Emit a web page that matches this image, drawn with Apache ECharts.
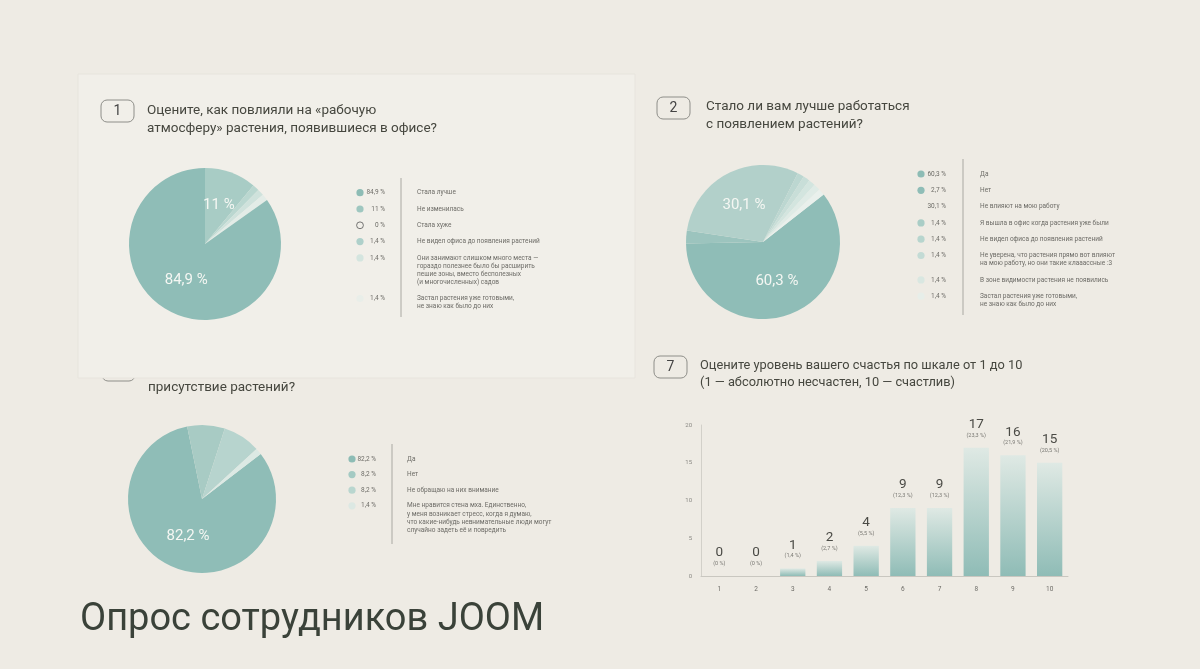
<!DOCTYPE html>
<html><head><meta charset="utf-8">
<script src="https://cdn.jsdelivr.net/npm/echarts@6/dist/echarts.min.js"></script>
<style>html,body{margin:0;padding:0;background:#eeebe4;}#c{width:1200px;height:669px;}</style>
</head><body><div id="c"></div>
<script>
// ---------- DATA ----------
const q1Title = 'Оцените, как повлияли на «рабочую\nатмосферу» растения, появившиеся в офисе?';
const q1Labels = ['Стала лучше','Не изменилась','Стала хуже','Не видел офиса до появления растений',
  'Они занимают слишком много места —\nгораздо полезнее было бы расширить\nпешие зоны, вместо бесполезных\n(и многочисленных) садов',
  'Застал растения уже готовыми,\nне знаю как было до них'];
const q1Values = [84.9, 11, 0, 1.4, 1.4, 1.4];
const q1Pct = ['84,9 %','11 %','0 %','1,4 %','1,4 %','1,4 %'];
const q1PieOrder = [1, 3, 4, 5, 2, 0];

const q2Title = 'Стало ли вам лучше работаться\nс появлением растений?';
const q2Labels = ['Да','Нет','Не влияют на мою работу','Я вышла в офис когда растения уже были',
  'Не видел офиса до появления растений',
  'Не уверена, что растения прямо вот влияют\nна мою работу, но они такие клааассные :3',
  'В зоне видимости растения не появились',
  'Застал растения уже готовыми,\nне знаю как было до них'];
const q2Values = [60.3, 2.7, 30.1, 1.4, 1.4, 1.4, 1.4, 1.4];
const q2Pct = ['60,3 %','2,7 %','30,1 %','1,4 %','1,4 %','1,4 %','1,4 %','1,4 %'];

const q3Title = 'присутствие растений?';
const q3Labels = ['Да','Нет','Не обращаю на них внимание',
  'Мне нравится стена мха. Единственно,\nу меня возникает стресс, когда я думаю,\nчто какие-нибудь невнимательные люди могут\nслучайно задеть её и повредить'];
const q3Values = [82.2, 8.2, 8.2, 1.4];
const q3Pct = ['82,2 %','8,2 %','8,2 %','1,4 %'];

const q7Title = 'Оцените уровень вашего счастья по шкале от 1 до 10\n(1 — абсолютно несчастен, 10 — счастлив)';
const q7Categories = ['1','2','3','4','5','6','7','8','9','10'];
const q7Values = [0, 0, 1, 2, 4, 9, 9, 17, 16, 15];
const q7Pct = ['0 %','0 %','1,4 %','2,7 %','5,5 %','12,3 %','12,3 %','23,3 %','21,9 %','20,5 %'];
const q7YTicks = [0, 5, 10, 15, 20];

const pageTitle = 'Опрос сотрудников JOOM';

// ---------- STYLE ----------
const FONT = 'Roboto, "Noto Sans", sans-serif';
const q1Colors = ['#8fbdb7','#a8ccc5','#ffffff','#bad7d0','#cfe2dc','#e3ece7'];
const q1Dots   = ['#8dbcb5','#9fc7c0',null,'#aed0ca','#d4e5df','#e9eee9'];
const q2Colors = ['#8fbdb7','#9cc4be','#b2d0ca','#bcd7d1','#c8ded8','#d3e5df','#dfebe6','#e9f0ec'];
const q2Dots   = ['#8dbcb5','#8fbdb7',null,'#a9cdc6','#b7d5ce','#c3dbd5','#d9e7e1','#e7eee9'];
const q3Colors = ['#8fbdb7','#a8cbc4','#b7d4ce','#dce9e4'];
const q3Dots   = ['#8dbcb5','#a4cac3','#b9d6cf','#dce8e3'];

const g = [];
function numBox(x, y, n, z) {
  g.push({type:'rect', z:z, shape:{x:x, y:y, width:33, height:22, r:6},
    style:{fill:'none', stroke:'#8e8e89', lineWidth:1}});
  if (n) g.push({type:'text', z:z, style:{x:x+16.5, y:y+11, text:n, fill:'#444', font:'14px '+FONT, align:'center', verticalAlign:'middle'}});
}
function qTitle(x, y, t, z, fs) {
  g.push({type:'text', z:z, style:{x:x, y:y, text:t, fill:'#46473f', font:(fs||13.5)+'px '+FONT, lineHeight:17.5, verticalAlign:'top'}});
}
function legend(dotX, pctX, lineX, labX, y0, step, labels, pcts, dots, lineTop, lineBot, z) {
  let y = y0;
  g.push({type:'line', z:z, shape:{x1:lineX, y1:lineTop, x2:lineX, y2:lineBot}, style:{stroke:'#a9a8a2', lineWidth:1}});
  labels.forEach((lab, i) => {
    const d = dots[i];
    if (d) g.push({type:'circle', z:z, shape:{cx:dotX, cy:y, r:3.6}, style:{fill:d}});
    else if (pcts[i] === '0 %') g.push({type:'circle', z:z, shape:{cx:dotX, cy:y, r:3.4}, style:{fill:'none', stroke:'#555', lineWidth:0.8}});
    g.push({type:'text', z:z, style:{x:pctX, y:y, text:pcts[i], fill:'#6d6c67', font:'6.5px '+FONT, align:'right', verticalAlign:'middle'}});
    g.push({type:'text', z:z, style:{x:labX, y:y-4, text:lab, fill:'#6d6c67', font:'6.5px '+FONT, lineHeight:8.1, verticalAlign:'top'}});
    y += step + (lab.split('\n').length - 1) * 8.1;
  });
}

// card 3 (partially hidden under card 1)
numBox(102, 359, '3', 0);
qTitle(148, 379, q3Title, 0);
legend(352, 376, 392, 407, 459, 15.6, q3Labels, q3Pct, q3Dots, 444, 544, 0);
// card 1 panel
g.push({type:'rect', z:1, shape:{x:78, y:74, width:557, height:304}, style:{fill:'#f1efe9', stroke:'#e7e4dd', lineWidth:1}});
numBox(101, 100, '1', 2);
qTitle(147, 102, q1Title, 2);
legend(360, 385, 401, 417, 192.7, 16.3, q1Labels, q1Pct, q1Dots, 178, 317, 2);
// card 2
numBox(657, 97, '2', 2);
qTitle(706, 98, q2Title, 2);
legend(921, 946, 963, 980, 174, 16.3, q2Labels, q2Pct, q2Dots, 159, 315, 2);
// card 7
numBox(654, 356, '7', 2);
qTitle(700, 357, q7Title, 2, 12.8);
// page title
g.push({type:'text', z:2, style:{x:80, y:620, text:pageTitle, fill:'#3a4239', font:'38px '+FONT, verticalAlign:'middle'}});

function pieData(values, pcts, colors, order) {
  const idx = order || values.map((_, i) => i);
  return idx.map(i => ({value: values[i], name: pcts[i], itemStyle:{color: colors[i]},
    label:{show: values[i] >= 10}}));
}
const pieBase = {type:'pie', z:3, clockwise:true, avoidLabelOverlap:false,
  label:{position:'inside', formatter:'{b}', color:'#f5f7f3', fontSize:15, fontFamily:FONT},
  labelLine:{show:false}, itemStyle:{borderWidth:0}, emphasis:{disabled:true}, silent:true, animation:false};

const barData = q7Values.map(v => ({value: v}));

const option = {
  backgroundColor:'#eeebe4',
  animation:false,
  graphic:{elements:g},
  grid:{left:701, right:132, top:425, bottom:93},
  xAxis:{type:'category', data:q7Categories, axisLine:{lineStyle:{color:'#c9c7c0'}}, axisTick:{show:false},
    axisLabel:{fontSize:6.5, color:'#6d6c67', margin:10, fontFamily:FONT}},
  yAxis:{type:'value', min:q7YTicks[0], max:q7YTicks[q7YTicks.length-1], interval:q7YTicks[1]-q7YTicks[0], splitLine:{show:false},
    axisLine:{show:true, lineStyle:{color:'#d2d0c9'}}, axisTick:{show:false},
    axisLabel:{fontSize:6, color:'#8a8984', margin:9, fontFamily:FONT}},
  series:[
    Object.assign({}, pieBase, {center:[205,244], radius:76, startAngle:90,
      data: pieData(q1Values, q1Pct, q1Colors, q1PieOrder)}),
    Object.assign({}, pieBase, {center:[763,242], radius:77, startAngle:38,
      data: pieData(q2Values, q2Pct, q2Colors)}),
    Object.assign({}, pieBase, {center:[202,499], radius:74, startAngle:37.5,
      data: pieData(q3Values, q3Pct, q3Colors)}),
    {type:'bar', z:3, data:barData, barWidth:25.3, silent:true,
      itemStyle:{color:new echarts.graphic.LinearGradient(0,0,0,1,[{offset:0,color:'#dfe9e4'},{offset:1,color:'#8fbcb6'}])},
      label:{show:true, position:'top', distance:9,
        formatter: p => '{a|' + p.value + '}\n{b|(' + q7Pct[p.dataIndex] + ')}',
        rich:{a:{fontSize:13.5, color:'#4a4a45', lineHeight:14, fontFamily:FONT, align:'center'},
              b:{fontSize:5.5, color:'#7a7974', lineHeight:7, fontFamily:FONT, align:'center'}}}}
  ]
};
const chart = echarts.init(document.getElementById('c'));
chart.setOption(option);
</script>
</body></html>
